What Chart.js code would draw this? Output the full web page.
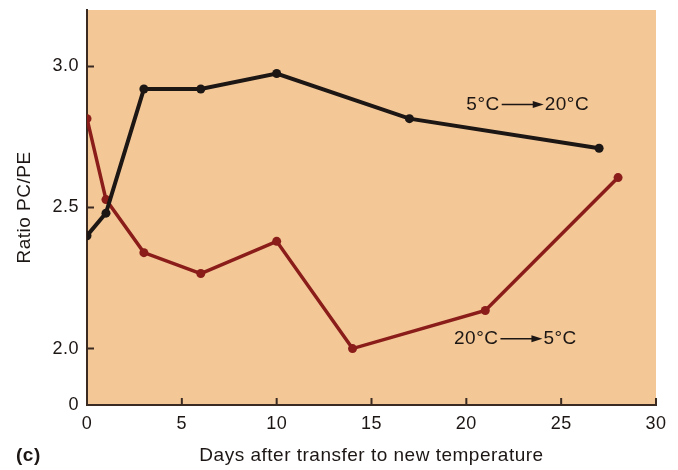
<!DOCTYPE html>
<html>
<head>
<meta charset="utf-8">
<script src="https://cdn.jsdelivr.net/npm/chart.js@4.4.0/dist/chart.umd.min.js"></script>
<style>
  html, body { margin: 0; padding: 0; background: #fff; }
  #wrap { width: 678px; height: 470px; }
</style>
</head>
<body>
<div id="wrap"><canvas id="chart"></canvas></div>
<script>
// 5°C -> 20°C
const coldToWarmDays = [0, 1, 3, 6, 10, 17, 27];
const coldToWarm = [2.40, 2.48, 2.92, 2.92, 2.975, 2.815, 2.71];

// 20°C -> 5°C
const warmToColdDays = [0, 1, 3, 6, 10, 14, 21, 28];
const warmToCold = [2.815, 2.528, 2.34, 2.266, 2.38, 2.0, 2.135, 2.606];

const xTicks = [0, 5, 10, 15, 20, 25, 30];
const yTicks = [1.8, 2.0, 2.5, 3.0];
const yTickLabels = ['0', '2.0', '2.5', '3.0'];

// line labels: [from, to, day, ratio]
const seriesLabels = [
    ['5°C', '20°C', 20.0, 2.865],
    ['20°C', '5°C', 19.35, 2.035]
];

const FONT = "'Liberation Sans', Arial, sans-serif";
const INK = '#1c1614';
const AXIS = '#3a2a22';
const RED = '#8a1c1a';
const PEACH = '#f3c796';

const toPoints = (xs, ys) => xs.map((x, i) => ({ x: x, y: ys[i] }));

const paperPlugin = {
    id: 'paper',
    beforeInit(chart) {
        chart.ctx.letterSpacing = '0.5px';
    },
    beforeDraw(chart) {
        const { ctx, chartArea: a } = chart;
        ctx.letterSpacing = '0.5px';
        ctx.save();
        ctx.fillStyle = PEACH;
        ctx.fillRect(a.left, a.top, a.right - a.left, a.bottom - a.top);
        ctx.restore();
    },
    afterDraw(chart) {
        const { ctx, chartArea: a, scales } = chart;
        ctx.save();
        // inward tick marks
        ctx.strokeStyle = AXIS;
        ctx.lineWidth = 2;
        ctx.beginPath();
        xTicks.forEach(v => {
            const px = scales.x.getPixelForValue(v);
            ctx.moveTo(px, a.bottom);
            ctx.lineTo(px, a.bottom - 7);
        });
        yTicks.slice(1).forEach(v => {
            const py = scales.y.getPixelForValue(v);
            ctx.moveTo(a.left, py);
            ctx.lineTo(a.left + 7, py);
        });
        ctx.stroke();

        // series labels with arrows
        ctx.font = '19px ' + FONT;
        ctx.fillStyle = INK;
        ctx.strokeStyle = INK;
        ctx.textBaseline = 'middle';
        ctx.textAlign = 'left';
        seriesLabels.forEach(([from, to, d, r]) => {
            let x = scales.x.getPixelForValue(d);
            const y = scales.y.getPixelForValue(r);
            ctx.fillText(from, x, y);
            x += ctx.measureText(from).width + 2;
            ctx.lineWidth = 1.5;
            ctx.beginPath();
            ctx.moveTo(x, y);
            ctx.lineTo(x + 34, y);
            ctx.stroke();
            ctx.beginPath();
            ctx.moveTo(x + 42, y);
            ctx.lineTo(x + 31, y - 3.5);
            ctx.lineTo(x + 31, y + 3.5);
            ctx.closePath();
            ctx.fill();
            ctx.fillText(to, x + 43, y);
        });

        // panel letter
        ctx.font = 'bold 19px ' + FONT;
        ctx.fillText('(c)', 16, 456);
        ctx.restore();
    }
};

const config = {
    type: 'line',
    data: {
        datasets: [{
            label: '5°C → 20°C',
            data: toPoints(coldToWarmDays, coldToWarm),
            borderColor: INK,
            backgroundColor: INK,
            borderWidth: 4,
            pointRadius: 4.5,
            pointBorderWidth: 0,
            tension: 0
        }, {
            label: '20°C → 5°C',
            data: toPoints(warmToColdDays, warmToCold),
            borderColor: RED,
            backgroundColor: RED,
            borderWidth: 3.5,
            pointRadius: 4.5,
            pointBorderWidth: 0,
            tension: 0
        }]
    },
    options: {
        responsive: true,
        maintainAspectRatio: false,
        animation: false,
        layout: { padding: { top: 10, right: 22, left: 0, bottom: 0 } },
        plugins: {
            legend: { display: false },
            tooltip: { enabled: false }
        },
        scales: {
            x: {
                type: 'linear',
                min: 0,
                max: 30,
                afterBuildTicks: s => { s.ticks = xTicks.map(v => ({ value: v })); },
                afterFit: s => { s.height = 65; s.paddingLeft = 0; s.paddingRight = 0; },
                grid: { drawOnChartArea: false, drawTicks: false },
                border: { display: true, color: AXIS, width: 2 },
                ticks: {
                    padding: 8,
                    color: INK,
                    font: { family: FONT, size: 18 },
                    maxRotation: 0
                },
                title: {
                    display: true,
                    text: 'Days after transfer to new temperature',
                    color: INK,
                    font: { family: FONT, size: 19 },
                    padding: { top: 0, bottom: 3 }
                }
            },
            y: {
                type: 'linear',
                min: 1.8,
                max: 3.2,
                afterBuildTicks: s => { s.ticks = yTicks.map(v => ({ value: v })); },
                afterFit: s => { s.width = 87; s.paddingTop = 0; s.paddingBottom = 0; },
                grid: { drawOnChartArea: false, drawTicks: false },
                border: { display: true, color: AXIS, width: 2 },
                ticks: {
                    padding: 8,
                    color: INK,
                    font: { family: FONT, size: 18 },
                    callback: v => yTickLabels[yTicks.indexOf(v)]
                },
                title: {
                    display: true,
                    text: 'Ratio PC/PE',
                    color: INK,
                    font: { family: FONT, size: 19 },
                    padding: { top: 13, bottom: 0 }
                }
            }
        }
    },
    plugins: [paperPlugin]
};

const myChart = new Chart(document.getElementById('chart'), config);
</script>
</body>
</html>
